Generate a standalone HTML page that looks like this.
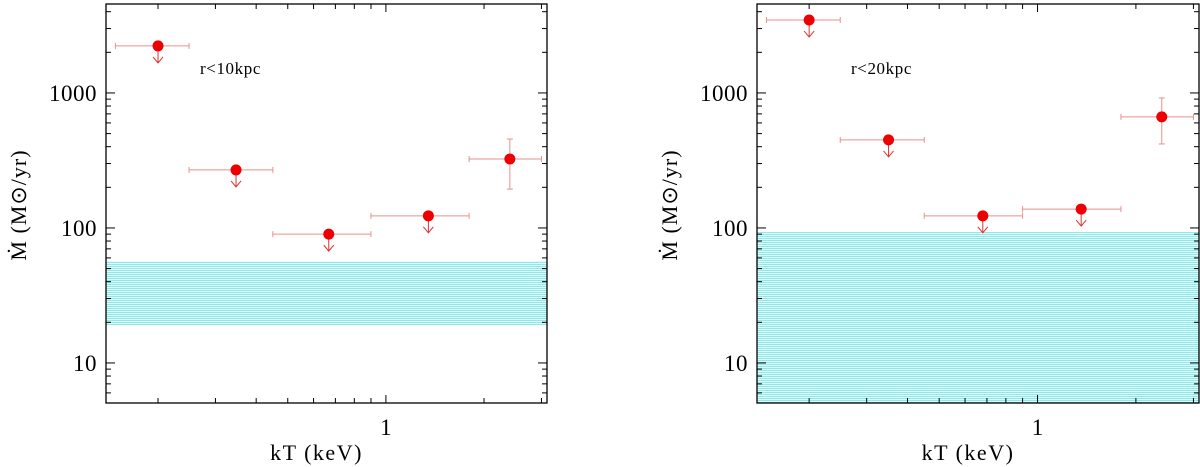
<!DOCTYPE html>
<html><head><meta charset="utf-8">
<style>
html,body{margin:0;padding:0;background:#fff;}
svg{display:block;}
text{font-family:"Liberation Serif",serif;fill:#000;}
</style></head>
<body>
<svg id="chart" width="1200" height="467" viewBox="0 0 1200 467">
<defs>
<pattern id="hatch" patternUnits="userSpaceOnUse" x="0" y="0" width="8" height="2">
<rect x="0" y="0" width="8" height="2" fill="#e6fbfb"/>
<rect x="0" y="0" width="8" height="1" fill="#8ceaea"/>
</pattern>
</defs>
</svg>
<script>
// ---- data ----
const binLo = [0.148, 0.249, 0.45, 0.9, 1.8];
const binHi = [0.249, 0.45, 0.9, 1.8, 3.0];
const kT10 = [0.2, 0.347, 0.668, 1.35, 2.4];
const mdot10 = [2230, 269, 90, 123, 324];
const upper10 = [true, true, true, true, false];
const errLo10 = [null, null, null, null, 194];
const errHi10 = [null, null, null, null, 456];
const band10 = [19, 57];
const kT20 = [0.2, 0.35, 0.68, 1.36, 2.4];
const mdot20 = [3470, 449, 123, 138, 665];
const upper20 = [true, true, true, true, false];
const errLo20 = [null, null, null, null, 419];
const errHi20 = [null, null, null, null, 918];
const band20 = [5, 93];
const yTickVals = [10, 100, 1000];
const yTickLabels = ["10", "100", "1000"];
const xTickVals = [1];
const xTickLabels = ["1"];
const xRange = [0.1385, 3.12];
const yRange = [5.05, 4560];

const NS = "http://www.w3.org/2000/svg";
const svg = document.getElementById('chart');
function mk(tag, attrs, parent){const e=document.createElementNS(NS,tag);for(const k in attrs)e.setAttribute(k,attrs[k]);(parent||svg).appendChild(e);return e;}

function panel(x0, x1, name, label, kT, mdot, upper, eLo, eHi, band){
  const y0 = 4, y1 = 403;
  const g = mk('g', {});
  
  
  const lx0 = Math.log10(xRange[0]), lx1 = Math.log10(xRange[1]);
  const ly0 = Math.log10(yRange[0]), ly1 = Math.log10(yRange[1]);
  const X = v => x0 + (Math.log10(v) - lx0) / (lx1 - lx0) * (x1 - x0);
  const Y = v => y1 - (Math.log10(v) - ly0) / (ly1 - ly0) * (y1 - y0);
  // band
  const bt = Math.round(Math.max(Y(band[1]), y0)), bb = Math.round(Math.min(Y(band[0]), y1));
  const br = mk('rect', {x:x0, y:bt, width:x1-x0, height:bb-bt, fill:'url(#hatch)'}, g);
  
  
  // axes box
  const box = mk('rect', {x:x0, y:y0, width:x1-x0, height:y1-y0, fill:'none', stroke:'#000', 'stroke-width':1.3}, g);
  
  
  // y ticks
  for (let d = 0; d <= 4; d++) {
    for (let m = 1; m <= 9; m++) {
      const v = m * Math.pow(10, d);
      if (v < yRange[0] || v > yRange[1]) continue;
      const len = m === 1 ? 9 : 5;
      const yy = Y(v);
      mk('line', {x1:x0, x2:x0+len, y1:yy, y2:yy, stroke:'#000', 'stroke-width':1}, g);
      mk('line', {x1:x1, x2:x1-len, y1:yy, y2:yy, stroke:'#000', 'stroke-width':1}, g);
    }
  }
  yTickVals.forEach((v, i) => {
    const t = mk('text', {x:x0-9, y:Y(v)+8, 'font-size':23, 'text-anchor':'end', 'letter-spacing':'0.5'}, g);
    t.textContent = yTickLabels[i];
    
    
  });
  // x ticks
  for (let d = -1; d <= 0; d++) {
    for (let m = 1; m <= 9; m++) {
      const v = m * Math.pow(10, d);
      if (v < xRange[0] || v > xRange[1]) continue;
      const len = v === 1 ? 8 : 5;
      const xx = X(v);
      mk('line', {x1:xx, x2:xx, y1:y1, y2:y1-len, stroke:'#000', 'stroke-width':1}, g);
      mk('line', {x1:xx, x2:xx, y1:y0, y2:y0+len, stroke:'#000', 'stroke-width':1}, g);
    }
  }
  xTickVals.forEach((v, i) => {
    const t = mk('text', {x:X(v), y:435, 'font-size':23, 'text-anchor':'middle'}, g);
    t.textContent = xTickLabels[i];
    
    
  });
  // axis titles
  const xt = mk('text', {x:(x0+x1)/2 - 10, y:460, 'font-size':22, 'text-anchor':'middle', 'letter-spacing':'1.5'}, g);
  xt.textContent = 'kT (keV)';
  
  
  const cx = x0 - 80, cy = 205;
  const yt = mk('text', {x:cx, y:cy, 'font-size':22, 'text-anchor':'middle', 'letter-spacing':'1', transform:`rotate(-90 ${cx} ${cy})`}, g);
  yt.textContent = 'Ṁ (M\u2299/yr)';
  
  
  // annotation
  const an = mk('text', {x:x0+94, y:74, 'font-size':17, 'letter-spacing':'0.6', 'font-family':'"Liberation Mono",monospace'}, g);
  an.textContent = label;
  
  
  // points
  kT.forEach((v, i) => {
    const pg = mk('g', {}, g);
    
    
    const px = X(v), py = Y(mdot[i]);
    const ec = '#e8908f';
    const xa = X(binLo[i]), xb = X(binHi[i]);
    mk('line', {x1:xa, x2:xb, y1:py, y2:py, stroke:ec, 'stroke-width':1}, pg);
    mk('line', {x1:xa, x2:xa, y1:py-3, y2:py+3, stroke:ec, 'stroke-width':1}, pg);
    mk('line', {x1:xb, x2:xb, y1:py-3, y2:py+3, stroke:ec, 'stroke-width':1}, pg);
    if (eLo[i] !== null) {
      const ya = Y(eHi[i]), yb = Y(eLo[i]);
      mk('line', {x1:px, x2:px, y1:ya, y2:yb, stroke:ec, 'stroke-width':1}, pg);
      mk('line', {x1:px-3, x2:px+3, y1:ya, y2:ya, stroke:ec, 'stroke-width':1}, pg);
      mk('line', {x1:px-3, x2:px+3, y1:yb, y2:yb, stroke:ec, 'stroke-width':1}, pg);
    }
    if (upper[i]) {
      mk('line', {x1:px, x2:px, y1:py, y2:py+17, stroke:'#e03030', 'stroke-width':1}, pg);
      mk('polyline', {points:`${px-5},${py+11} ${px},${py+17} ${px+5},${py+11}`, fill:'none', stroke:'#e03030', 'stroke-width':1}, pg);
    }
    mk('circle', {cx:px, cy:py, r:5.5, fill:'#ee0000'}, pg);
  });
}
panel(106, 547, 'panel-r10kpc', 'r<10kpc', kT10, mdot10, upper10, errLo10, errHi10, band10);
panel(757, 1199, 'panel-r20kpc', 'r<20kpc', kT20, mdot20, upper20, errLo20, errHi20, band20);
</script>
</body></html>
